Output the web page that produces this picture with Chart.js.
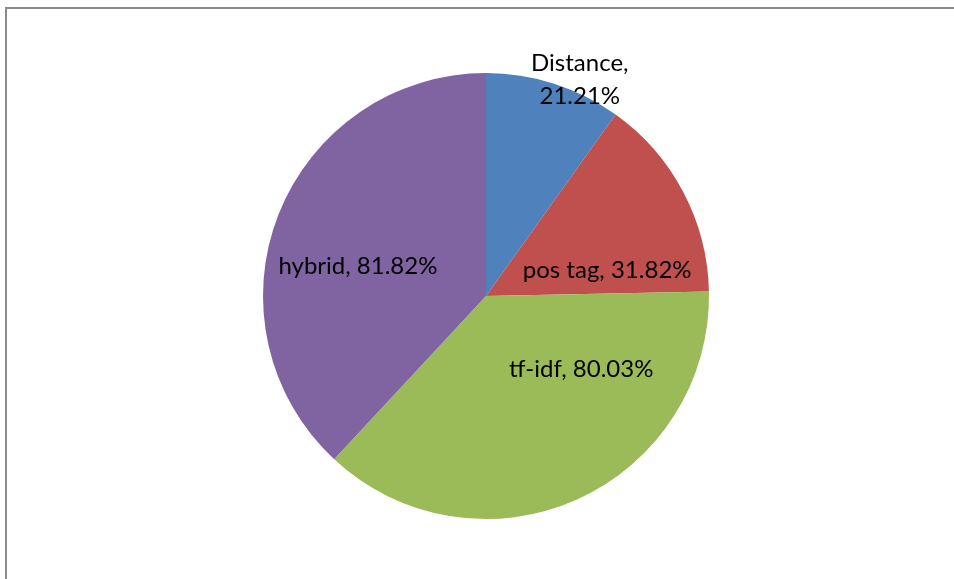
<!DOCTYPE html>
<html>
<head>
<meta charset="utf-8">
<script src="https://cdn.jsdelivr.net/npm/chart.js@4.4.1/dist/chart.umd.min.js"></script>
<style>
  html, body { margin: 0; padding: 0; background: #ffffff; }
  #frame {
    position: absolute; left: 5px; top: 7px; width: 949px; height: 572px;
    border-top: 2px solid #8a8a8a; border-left: 2px solid #8a8a8a;
    box-sizing: border-box; background: #fff;
  }
  #wrap { position: absolute; left: 0; top: 0; width: 954px; height: 579px; }
</style>
</head>
<body>
<div id="frame"></div>
<div id="wrap"><canvas id="c"></canvas></div>
<script>
// Detection accuracy per method
const categories = ['Distance', 'pos tag', 'tf-idf', 'hybrid'];
const accuracy = [21.21, 31.82, 80.03, 81.82];
const valueLabels = ['21.21%', '31.82%', '80.03%', '81.82%'];
const sliceColors = ['#4F81BD', '#C0504D', '#9BBB59', '#8064A2'];

// Where each label sits: fraction along the slice's sweep, fraction of the radius,
// and whether the name and value are split over two lines.
const labelPlacement = [
  { sweep: 0.66, radius: 1.057, twoLines: true },
  { sweep: 0.80, radius: 0.555, twoLines: false },
  { sweep: 0.29, radius: 0.54, twoLines: false },
  { sweep: 0.44, radius: 0.59, twoLines: false }
];

const sliceLabels = {
  id: 'sliceLabels',
  afterDatasetsDraw(chart) {
    const ctx = chart.ctx;
    const meta = chart.getDatasetMeta(0);
    ctx.save();
    ctx.font = '24px Lato, "Liberation Sans", sans-serif';
    ctx.fillStyle = '#000';
    ctx.textAlign = 'center';
    ctx.textBaseline = 'middle';
    meta.data.forEach((arc, i) => {
      const p = arc.getProps(['x', 'y', 'startAngle', 'endAngle', 'outerRadius'], true);
      const place = labelPlacement[i];
      const a = p.startAngle + (p.endAngle - p.startAngle) * place.sweep;
      const r = p.outerRadius * place.radius;
      const x = p.x + Math.cos(a) * r;
      const y = p.y + Math.sin(a) * r;
      if (place.twoLines) {
        ctx.fillText(categories[i] + ',', x, y - 16.5);
        ctx.fillText(valueLabels[i], x, y + 16.5);
      } else {
        ctx.fillText(categories[i] + ', ' + valueLabels[i], x, y);
      }
    });
    ctx.restore();
  }
};

new Chart(document.getElementById('c'), {
  type: 'pie',
  data: {
    labels: categories,
    datasets: [{
      data: accuracy,
      backgroundColor: sliceColors,
      borderWidth: 0
    }]
  },
  options: {
    responsive: true,
    maintainAspectRatio: false,
    animation: false,
    layout: { padding: { left: 18, right: 0, top: 73, bottom: 60 } },
    plugins: {
      legend: { display: false },
      tooltip: { enabled: false }
    }
  },
  plugins: [sliceLabels]
});
</script>
</body>
</html>
